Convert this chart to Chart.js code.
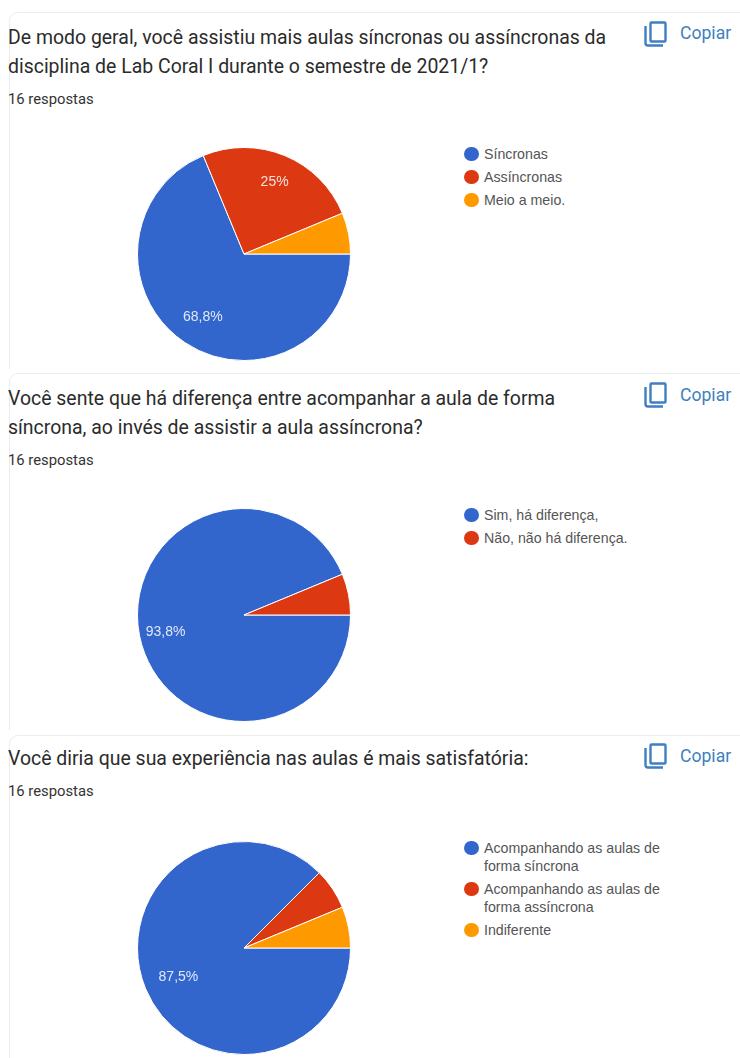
<!DOCTYPE html>
<html lang="pt-BR">
<head>
<meta charset="utf-8">
<title>Respostas</title>
<script src="https://cdn.jsdelivr.net/npm/chart.js@4"></script>
<style>
  html, body { margin: 0; padding: 0; background: #fff; }
  body { position: relative; width: 740px; height: 1058px; overflow: hidden; font-family: Roboto, sans-serif; }
  .card { position: absolute; left: 9px; width: 760px; border: 1px solid #ececec; border-right: 0; border-bottom: 0; border-radius: 9px 0 0 0; }
  .title { position: absolute; left: 8px; margin: 0; font-size: 19.45px; font-weight: 400; line-height: 29px; color: #2b2b2b; white-space: pre-line; }
  .count { position: absolute; left: 8px; font-size: 14.8px; color: #333; }
  .copy { position: absolute; left: 680px; font-size: 17.6px; color: #3f7fc0; }
  .icon { position: absolute; left: 644px; }
  .chart { position: absolute; left: 137px; }
  .legend { position: absolute; left: 465px; margin: 0; padding: 0; list-style: none; font-family: "Liberation Sans", Arial, sans-serif; font-size: 14.2px; line-height: 18px; color: #555; }
  .legend li { position: relative; padding-left: 19px; margin-bottom: 5px; width: 215px; white-space: pre-line; }
  .legend i { position: absolute; left: -1px; top: 1.75px; width: 14.5px; height: 14.5px; border-radius: 50%; }
</style>
</head>
<body>
<script>
'use strict';

const colors = ['#3366cc', '#dc3912', '#ff9900'];

const title1 = 'De modo geral, você assistiu mais aulas síncronas ou assíncronas da\ndisciplina de Lab Coral I durante o semestre de 2021/1?';
const labels1 = ['Síncronas', 'Assíncronas', 'Meio a meio.'];
const values1 = [11, 4, 1];

const title2 = 'Você sente que há diferença entre acompanhar a aula de forma\nsíncrona, ao invés de assistir a aula assíncrona?';
const labels2 = ['Sim, há diferença,', 'Não, não há diferença.'];
const values2 = [15, 1];

const title3 = 'Você diria que sua experiência nas aulas é mais satisfatória:';
const labels3 = ['Acompanhando as aulas de\nforma síncrona', 'Acompanhando as aulas de\nforma assíncrona', 'Indiferente'];
const values3 = [14, 1, 1];

const countText = '16 respostas';
const copyText = 'Copiar';

function fmtPct(v, total) {
  return (v / total * 100).toLocaleString('pt-BR', { maximumFractionDigits: 1 }) + '%';
}

// rotulos dentro das fatias, as pequenas ficam sem texto
const sliceLabels = {
  id: 'sliceLabels',
  afterDatasetsDraw(chart, args, opts) {
    const ctx = chart.ctx;
    const values = chart.data.datasets[0].data;
    const total = values.reduce((s, v) => s + v, 0);
    chart.getDatasetMeta(0).data.forEach((arc, i) => {
      if (values[i] / total < 0.1) return;
      const mid = (arc.startAngle + arc.endAngle) / 2;
      ctx.save();
      ctx.fillStyle = 'rgba(255,255,255,0.85)';
      ctx.font = '14px "Liberation Sans", Arial, sans-serif';
      ctx.textAlign = 'center';
      ctx.textBaseline = 'middle';
      ctx.fillText(fmtPct(values[i], total), arc.x + Math.cos(mid) * opts.dist[i], arc.y + Math.sin(mid) * opts.dist[i] + 2);
      ctx.restore();
    });
  },
};

function addEl(tag, cls, top, text) {
  const el = document.createElement(tag);
  el.className = cls;
  el.style.top = top + 'px';
  if (text) el.textContent = text;
  document.body.appendChild(el);
  return el;
}

function addSection(sec) {
  addEl('div', 'card', sec.cardTop).style.height = sec.cardHeight + 'px';
  addEl('h2', 'title', sec.titleTop, sec.title);
  addEl('div', 'count', sec.countTop, countText);
  addEl('div', 'copy', sec.copyTop, copyText);

  const icon = addEl('div', 'icon', sec.iconTop);
  icon.innerHTML = '<svg width="24" height="26" viewBox="0 0 24 26" fill="none" stroke="#3f7fc0" stroke-width="2.4">' +
    '<rect x="6.5" y="1.5" width="15" height="19" rx="1"/><path d="M1.5 5v17q0 2.5 2.5 2.5h15"/></svg>';

  const legend = addEl('ul', 'legend', sec.legendTop);
  sec.labels.forEach((label, i) => {
    const li = document.createElement('li');
    li.textContent = label;
    const dot = document.createElement('i');
    dot.style.background = colors[i];
    li.appendChild(dot);
    legend.appendChild(li);
  });

  const canvas = addEl('canvas', 'chart', sec.chartTop);
  canvas.width = 214;
  canvas.height = 214;
  new Chart(canvas, {
    type: 'pie',
    data: {
      labels: sec.labels,
      datasets: [{
        data: sec.values,
        backgroundColor: colors.slice(0, sec.values.length),
        borderColor: '#fff',
        borderWidth: 1,
      }],
    },
    options: {
      responsive: false,
      animation: false,
      rotation: 90,
      plugins: {
        legend: { display: false },
        tooltip: { enabled: false },
        sliceLabels: { dist: sec.labelDist },
      },
    },
    plugins: [sliceLabels],
  });
}

addSection({ title: title1, labels: labels1, values: values1, cardTop: 12, cardHeight: 356, titleTop: 23, countTop: 90, copyTop: 23, iconTop: 21, legendTop: 145, chartTop: 147, labelDist: [74, 80, 0] });
addSection({ title: title2, labels: labels2, values: values2, cardTop: 373, cardHeight: 356, titleTop: 384, countTop: 451, copyTop: 385, iconTop: 382, legendTop: 506, chartTop: 508, labelDist: [80, 0] });
addSection({ title: title3, labels: labels3, values: values3, cardTop: 735, cardHeight: 330, titleTop: 744, countTop: 782, copyTop: 746, iconTop: 743, legendTop: 839, chartTop: 841, labelDist: [71, 0, 0] });
</script>
</body>
</html>
